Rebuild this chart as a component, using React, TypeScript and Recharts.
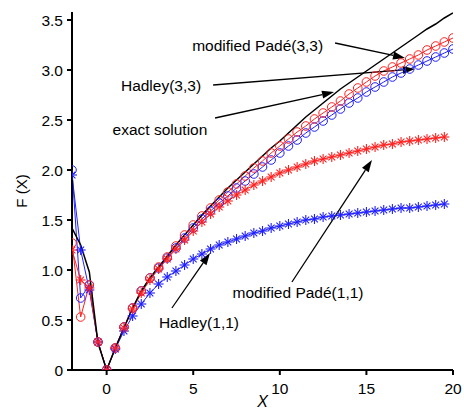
import { ComposedChart, Line, XAxis, YAxis, ReferenceLine, ReferenceDot, Label } from 'recharts'

const FONT = '"Liberation Sans", Arial, Helvetica, sans-serif'

// x positions of the samples (markers every 0.5)
const XS = [
  -2, -1.5, -1, -0.5, 0, 0.5, 1, 1.5, 2, 2.5, 3, 3.5, 4, 4.5, 5, 5.5, 6, 6.5, 7, 7.5, 8, 8.5,
  9, 9.5, 10, 10.5, 11, 11.5, 12, 12.5, 13, 13.5, 14, 14.5, 15, 15.5, 16, 16.5, 17, 17.5, 18,
  18.5, 19, 19.5, 20,
]

const EXACT = [
  1.42, 1.25, 0.98, 0.27, 0, 0.22, 0.42, 0.62, 0.79, 0.92, 1.03, 1.14, 1.25, 1.35, 1.45, 1.55,
  1.64, 1.73, 1.82, 1.9, 1.98, 2.06, 2.14, 2.22, 2.29, 2.37, 2.45, 2.53, 2.6, 2.67, 2.74, 2.81,
  2.87, 2.93, 2.99, 3.05, 3.11, 3.17, 3.23, 3.29, 3.35, 3.41, 3.46, 3.52, 3.57,
]

const PADE33 = [
  1.27, 0.53, 0.85, 0.28, 0, 0.22, 0.43, 0.62, 0.79, 0.92, 1.03, 1.13, 1.24, 1.35, 1.45, 1.54,
  1.62, 1.7, 1.78, 1.86, 1.94, 2.02, 2.09, 2.17, 2.24, 2.31, 2.38, 2.44, 2.51, 2.57, 2.63, 2.69,
  2.76, 2.82, 2.88, 2.94, 2.99, 3.03, 3.07, 3.11, 3.15, 3.2, 3.24, 3.28, 3.32,
]

const HADLEY33 = [
  2.0, 0.72, 0.85, 0.28, 0, 0.22, 0.43, 0.62, 0.79, 0.92, 1.02, 1.12, 1.22, 1.32, 1.42, 1.51,
  1.59, 1.67, 1.74, 1.82, 1.89, 1.96, 2.03, 2.1, 2.17, 2.24, 2.3, 2.37, 2.43, 2.49, 2.55, 2.61,
  2.67, 2.72, 2.78, 2.83, 2.88, 2.93, 2.97, 3.01, 3.05, 3.09, 3.13, 3.17, 3.21,
]

// star series stop at 19.5
const PADE11 = [
  1.2, 0.9, 0.82, 0.28, 0, 0.22, 0.42, 0.61, 0.77, 0.9, 1.01, 1.11, 1.21, 1.3, 1.39, 1.48, 1.56,
  1.63, 1.69, 1.75, 1.8, 1.85, 1.89, 1.93, 1.97, 2.0, 2.03, 2.06, 2.09, 2.11, 2.13, 2.15, 2.17,
  2.19, 2.21, 2.23, 2.25, 2.26, 2.28, 2.29, 2.3, 2.31, 2.32, 2.33,
]

const HADLEY11 = [
  1.95, 1.2, 0.8, 0.28, 0, 0.21, 0.39, 0.54, 0.66, 0.77, 0.86, 0.93, 0.99, 1.05, 1.11, 1.16, 1.21,
  1.25, 1.28, 1.31, 1.34, 1.37, 1.39, 1.42, 1.44, 1.46, 1.48, 1.5, 1.51, 1.53, 1.54, 1.55, 1.56,
  1.57, 1.58, 1.59, 1.6, 1.61, 1.62, 1.62, 1.63, 1.64, 1.65, 1.66,
]

const X_TICKS = [0, 5, 10, 15, 20]
const Y_TICKS = [0, 0.5, 1, 1.5, 2, 2.5, 3, 3.5]

// annotation text centre and arrow (from -> to), in data units
const NOTES = [
  { text: 'modified Padé(3,3)', tx: 8.72, ty: 3.25, from: [13.19, 3.27], to: [17.23, 3.12] },
  { text: 'Hadley(3,3)', tx: 3.14, ty: 2.85, from: [6.15, 2.85], to: [17.8, 3.01] },
  { text: 'exact solution', tx: 3.08, ty: 2.41, from: [6.26, 2.52], to: [13.13, 2.78] },
  { text: 'modified Padé(1,1)', tx: 11.05, ty: 0.78, from: [10.7, 0.88], to: [15.32, 2.1] },
  { text: 'Hadley(1,1)', tx: 5.33, ty: 0.48, from: [3.77, 0.62], to: [5.97, 1.17] },
]

const rows = (ys: number[]) => ys.map((y, i) => ({ x: XS[i], y }))

function circleDot(color: string) {
  return (p: any) => {
    if (p.cx == null || p.cy == null) return <g key={`c${p.index}`} />
    return <circle key={`c${p.index}`} cx={p.cx} cy={p.cy} r={4.3} fill="none" stroke={color} strokeWidth={1} />
  }
}

function starDot(color: string) {
  return (p: any) => {
    if (p.cx == null || p.cy == null) return <g key={`s${p.index}`} />
    const { cx, cy } = p
    const s = 5
    const d = 3.4
    return (
      <g key={`s${p.index}`} stroke={color} strokeWidth={1.1}>
        <line x1={cx - s} y1={cy} x2={cx + s} y2={cy} />
        <line x1={cx} y1={cy - s} x2={cx} y2={cy + s} />
        <line x1={cx - d} y1={cy - d} x2={cx + d} y2={cy + d} />
        <line x1={cx - d} y1={cy + d} x2={cx + d} y2={cy - d} />
      </g>
    )
  }
}

function Arrow(props: any) {
  const { x1, y1, x2, y2 } = props
  const dx = x2 - x1
  const dy = y2 - y1
  const len = Math.hypot(dx, dy) || 1
  const ux = dx / len
  const uy = dy / len
  const L = 12
  const W = 4
  const bx = x2 - ux * L
  const by = y2 - uy * L
  return (
    <g>
      <line x1={x1} y1={y1} x2={bx} y2={by} stroke="#000" strokeWidth={1.3} />
      <polygon
        points={`${x2},${y2} ${bx - uy * W},${by + ux * W} ${bx + uy * W},${by - ux * W}`}
        fill="#000"
      />
    </g>
  )
}

const tickStyle = { fontFamily: FONT, fontSize: 15.5, fill: '#000' }

export default function App() {
  return (
    <div style={{ position: 'absolute', left: 0, top: 0, background: '#fff' }}>
      <ComposedChart width={464} height={410} margin={{ top: 12, right: 11, left: 12, bottom: 10 }}>
        <XAxis
          type="number"
          dataKey="x"
          domain={[-2, 20]}
          ticks={X_TICKS}
          allowDataOverflow
          height={30}
          tick={tickStyle}
          tickSize={5}
          tickMargin={8}
          axisLine={{ stroke: '#000', strokeWidth: 2 }}
          tickLine={{ stroke: '#000', strokeWidth: 2 }}
        >
          <Label
            content={({ viewBox }: any) => (
              <text
                x={viewBox.x + viewBox.width / 2}
                y={viewBox.y + 37}
                textAnchor="middle"
                fontFamily={FONT}
                fontSize={16}
                fontStyle="italic"
                fill="#000"
              >
                X
              </text>
            )}
          />
        </XAxis>
        <YAxis
          type="number"
          domain={[0, 3.58]}
          ticks={Y_TICKS}
          allowDataOverflow
          width={60}
          tick={tickStyle}
          tickSize={5}
          tickMargin={4}
          tickFormatter={(v: number) => (v === 0 ? '0' : v.toFixed(1))}
          axisLine={{ stroke: '#000', strokeWidth: 2 }}
          tickLine={{ stroke: '#000', strokeWidth: 2 }}
        >
          <Label
            content={({ viewBox }: any) => {
              const x = viewBox.x + 9
              const y = viewBox.y + viewBox.height / 2
              return (
                <text
                  x={x}
                  y={y}
                  transform={`rotate(-90, ${x}, ${y})`}
                  textAnchor="middle"
                  dominantBaseline="central"
                  fontFamily={FONT}
                  fontSize={15}
                  fill="#000"
                >
                  F (X)
                </text>
              )
            }}
          />
        </YAxis>

        <Line
          data={rows(HADLEY33)}
          dataKey="y"
          stroke="#2020ff"
          strokeWidth={1}
          dot={circleDot('#2020ff')}
          isAnimationActive={false}
        />
        <Line
          data={rows(PADE33)}
          dataKey="y"
          stroke="#ff2020"
          strokeWidth={1}
          dot={circleDot('#ff2020')}
          isAnimationActive={false}
        />
        <Line
          data={rows(HADLEY11)}
          dataKey="y"
          stroke="#2020ff"
          strokeWidth={1}
          dot={starDot('#2020ff')}
          isAnimationActive={false}
        />
        <Line
          data={rows(PADE11)}
          dataKey="y"
          stroke="#ff2020"
          strokeWidth={1}
          dot={starDot('#ff2020')}
          isAnimationActive={false}
        />
        <Line
          data={rows(EXACT)}
          dataKey="y"
          stroke="#000"
          strokeWidth={1.5}
          dot={false}
          isAnimationActive={false}
        />

        {NOTES.map((n) => (
          <ReferenceLine
            key={`a-${n.text}`}
            segment={[
              { x: n.from[0], y: n.from[1] },
              { x: n.to[0], y: n.to[1] },
            ]}
            shape={Arrow}
          />
        ))}
        {NOTES.map((n) => (
          <ReferenceDot
            key={`t-${n.text}`}
            x={n.tx}
            y={n.ty}
            r={0}
            shape={(p: any) => (
              <text
                x={p.cx}
                y={p.cy}
                textAnchor="middle"
                dominantBaseline="central"
                fontFamily={FONT}
                fontSize={15.5}
                fill="#000"
              >
                {n.text}
              </text>
            )}
          />
        ))}
      </ComposedChart>
    </div>
  )
}
